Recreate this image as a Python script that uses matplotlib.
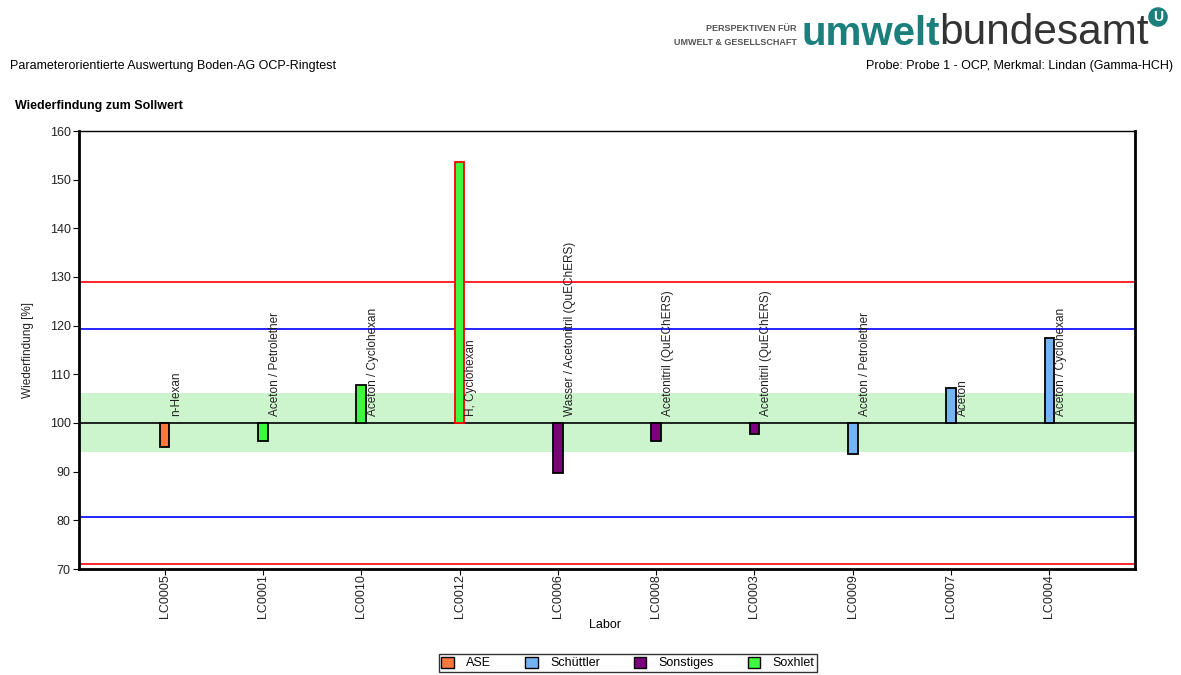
import matplotlib
matplotlib.use("Agg")
import matplotlib.pyplot as plt
from matplotlib.patches import Patch

plt.rcParams["font.family"] = ["Liberation Sans", "DejaVu Sans"]

labs = ["LC0005", "LC0001", "LC0010", "LC0012", "LC0006",
        "LC0008", "LC0003", "LC0009", "LC0007", "LC0004"]
values = [95.0, 96.4, 107.9, 153.7, 89.7, 96.3, 97.8, 93.7, 107.1, 117.4]
methods = ["ASE", "Soxhlet", "Soxhlet", "Soxhlet", "Sonstiges",
           "Sonstiges", "Sonstiges", "Schüttler", "Schüttler", "Schüttler"]
solvents = ["n-Hexan", "Aceton / Petrolether", "Aceton / Cyclohexan",
            "H, Cyclohexan", "Wasser / Acetonitril (QuEChERS)",
            "Acetonitril (QuEChERS)", "Acetonitril (QuEChERS)",
            "Aceton / Petrolether", "Aceton", "Aceton / Cyclohexan"]
target = 100.0
band = (94.0, 106.2)
warn_limits = (80.6, 119.3)
action_limits = (71.0, 129.0)

method_colors = {"ASE": "#f77a3c", "Schüttler": "#74b4f4",
                 "Sonstiges": "#7d007d", "Soxhlet": "#3ff73f"}

fig = plt.figure(figsize=(11.81, 6.75), dpi=100)
ax = fig.add_axes([79 / 1181, 106 / 675, 1056 / 1181, 438 / 675])

xs = list(range(len(labs)))
ax.axhspan(band[0], band[1], color="#cdf5cd", zorder=0, lw=0)
for v in warn_limits:
    ax.axhline(v, color="#0000ff", lw=1.2, zorder=1)
for v in action_limits:
    ax.axhline(v, color="#ff0000", lw=1.2, zorder=1)
ax.axhline(target, color="black", lw=1.2, zorder=2)

for x, v, m in zip(xs, values, methods):
    out = v > action_limits[1] or v < action_limits[0]
    ax.bar(x, v - target, bottom=target, width=0.1,
           color=method_colors[m], edgecolor="red" if out else "black",
           lw=1.3, zorder=3)

for x, s in zip(xs, solvents):
    ax.text(x + 0.06, 101.5, s, rotation=90, ha="left", va="bottom",
            fontsize=8.5, color="#222222", zorder=4)

ax.set_xlim(-0.87, 9.87)
ax.set_ylim(70, 160)
ax.set_yticks(range(70, 161, 10))
ax.set_xticks(xs)
ax.set_xticklabels(labs, rotation=90, fontsize=9)
ax.tick_params(axis="y", labelsize=9, length=4, direction="out",
               labelcolor="#222222", pad=2)
ax.tick_params(axis="x", length=4, direction="out", labelcolor="#222222", pad=0)
for side in ["left", "bottom", "right"]:
    ax.spines[side].set_linewidth(2)
ax.spines["top"].set_linewidth(1)

ax.set_ylabel("Wiederfindung [%]", fontsize=8.5, color="#222222")
ax.yaxis.set_label_coords(-0.043, 0.5)
ax.set_xlabel("Labor", fontsize=9)
ax.xaxis.set_label_coords(0.498, -0.115)

handles = [Patch(facecolor=method_colors[k], edgecolor="black", label=k)
           for k in ["ASE", "Schüttler", "Sonstiges", "Soxhlet"]]
fig.legend(handles=handles, loc="center", bbox_to_anchor=(628 / 1181, 1 - 663 / 675),
           ncol=4, fontsize=9, frameon=True, fancybox=False, edgecolor="black",
           handlelength=1.0, handleheight=1.0, columnspacing=2.7,
           borderpad=0.2, handletextpad=1.0, borderaxespad=0)

# header
fig.text(10 / 1181, 1 - 66 / 675, "Parameterorientierte Auswertung Boden-AG OCP-Ringtest",
         fontsize=9, va="center", ha="left")
fig.text(1173 / 1181, 1 - 66 / 675, "Probe: Probe 1 - OCP, Merkmal: Lindan (Gamma-HCH)",
         fontsize=9, va="center", ha="right")
fig.text(15 / 1181, 1 - 106 / 675, "Wiederfindung zum Sollwert",
         fontsize=9, va="center", ha="left", fontweight="bold")

# logo
teal = "#1b7f7c"
t1 = fig.text(801 / 1181, 1 - 45 / 675, "umwelt", fontsize=29, fontweight="bold",
              color=teal, ha="left", va="baseline")
ax.annotate("bundesamt", xy=(1, 0), xycoords=t1, fontsize=30.5, color="#333333",
            ha="left", va="bottom", annotation_clip=False)
fig.text(797 / 1181, 1 - 31 / 675, "PERSPEKTIVEN FÜR", fontsize=6.5,
         fontweight="bold", color="#555555", ha="right", va="baseline")
fig.text(797 / 1181, 1 - 45 / 675, "UMWELT & GESELLSCHAFT", fontsize=6.5,
         fontweight="bold", color="#555555", ha="right", va="baseline")
fig.text(1158 / 1181, 1 - 17 / 675, "U", fontsize=10, fontweight="bold", color="white",
         ha="center", va="center",
         bbox=dict(boxstyle="circle,pad=0.2", fc=teal, ec="none"))

fig.savefig("out.png", dpi=100)
